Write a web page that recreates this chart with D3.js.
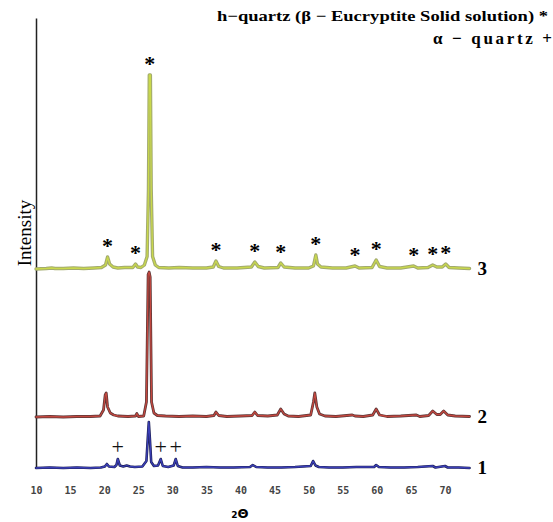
<!DOCTYPE html>
<html>
<head>
<meta charset="utf-8">
<script src="https://cdn.jsdelivr.net/npm/d3@7"></script>
<style>
  body { margin: 0; background: #fff; }
  .trace { fill: none; stroke-linejoin: round; stroke-linecap: round; }
  .tick-label { font-family: "DejaVu Sans Mono", monospace; font-weight: bold; font-size: 10px; fill: #444; }
</style>
</head>
<body>
<div id="chart"></div>
<script>
// 2-theta tick labels
var tickValues = [10, 15, 20, 25, 30, 35, 40, 45, 50, 55, 60, 65, 70];

// sample names, drawn bottom to top
var sampleNames = ['1', '2', '3'];

// vertical offset of each pattern (same units as intensity)
var sampleOffsets = [0, 102, 398];

// pattern 1 : [2theta, intensity]
var pattern1 = [[10.0,0],[12.0,1],[14.0,0],[16.0,1],[18.0,0],[19.5,1],[20.1,3],[20.4,8],[20.7,3],[21.5,2],
  [21.8,6],[22.0,18],[22.3,5],[22.8,3],[23.3,5],[23.8,3],[24.5,2],[25.6,3],[26.2,14],[26.4,60],[26.55,92],
  [26.7,60],[26.9,12],[27.3,4],[27.9,5],[28.3,18],[28.6,4],[29.4,2],[30.2,5],[30.5,18],[30.8,4],[31.5,1],
  [33.0,1],[35.0,2],[37.0,1],[39.0,1],[41.4,2],[41.8,6],[42.3,2],[44.0,1],[46.0,1],[48.0,2],[50.3,4],
  [50.65,14],[51.0,5],[51.5,2],[53.0,1],[55.0,1],[57.0,2],[59.6,2],[59.9,6],[60.3,2],[62.0,1],[64.0,1],
  [66.0,2],[68.2,4],[68.6,1],[70.0,4],[70.4,1],[72.0,1],[73.6,0]];

// pattern 2
var pattern2 = [[10.0,0],[12.0,1],[14.0,0],[16.0,1],[18.0,1],[19.4,2],[19.9,14],[20.15,44],[20.3,48],[20.5,20],
  [20.9,8],[21.4,4],[22.0,2],[23.5,1],[24.6,2],[24.8,7],[25.0,1],[25.8,2],[26.2,30],[26.45,285],[26.6,290],
  [26.75,280],[26.95,30],[27.3,8],[27.8,3],[29.0,2],[31.0,1],[33.0,2],[35.0,1],[36.1,3],[36.4,10],[36.8,3],
  [38.0,1],[40.0,2],[41.7,3],[42.1,10],[42.5,3],[44.0,2],[45.4,4],[45.9,16],[46.4,6],[47.0,2],[48.5,1],
  [50.3,4],[50.7,30],[50.9,48],[51.2,20],[51.6,6],[52.4,2],[54.0,1],[56.4,4],[56.8,2],[58.0,1],[59.4,4],
  [59.9,16],[60.4,4],[61.5,1],[63.5,2],[65.8,4],[66.3,1],[67.6,3],[68.2,12],[68.8,5],[69.3,5],[69.8,12],
  [70.4,4],[71.5,2],[73.6,1]];

// pattern 3
var pattern3 = [[10.0,0],[11.5,1],[12.3,2],[12.8,1],[14.0,1],[15.5,2],[17.0,1],[18.5,2],[19.6,3],[20.2,8],
  [20.5,24],[20.8,10],[21.3,4],[22.0,2],[23.0,3],[24.2,3],[24.6,10],[24.9,4],[25.4,3],[25.9,8],[26.3,25],
  [26.5,160],[26.62,388],[26.78,388],[26.9,160],[27.1,25],[27.5,8],[28.0,3],[29.5,2],[31.0,3],[33.0,2],[35.0,2],
  [36.0,4],[36.4,16],[36.8,5],[37.5,2],[39.5,2],[41.6,4],[42.1,14],[42.6,5],[43.5,2],[45.5,3],[45.9,12],
  [46.4,4],[48.0,2],[50.0,2],[50.7,6],[51.05,28],[51.3,10],[51.8,4],[53.5,2],[55.5,2],[56.8,6],[57.4,2],
  [59.3,3],[59.9,18],[60.4,5],[61.5,2],[63.5,2],[65.4,6],[66.0,2],[67.5,3],[68.2,8],[68.8,4],[69.6,4],
  [70.1,10],[70.6,3],[72.0,2],[73.6,1]];

// peaks marked with * (h-quartz) on pattern 3 and + (alpha-quartz) on pattern 1
var hQuartzPeaks = [20.5, 24.6, 26.7, 36.4, 42.1, 45.9, 51.05, 56.8, 59.9, 65.4, 68.2, 70.1];
var alphaQuartzPeaks = [22.0, 28.3, 30.5];

var patterns = [pattern1, pattern2, pattern3];
var colors = [
  { under: '#1c1f55', over: '#3b3fb8', w: 2.6 },
  { under: '#5a3636', over: '#c4473f', w: 2.8 },
  { under: '#a2aa6e', over: '#c9d84c', w: 3.4 }
];

var width = 553, height = 522;

var x = d3.scaleLinear().domain([10, 70]).range([36, 445]);
var y = d3.scaleLinear().domain([0, 900]).range([468, 18]);

var svg = d3.select('#chart').append('svg')
  .attr('width', width)
  .attr('height', height);

// y axis is just a line
svg.append('g')
  .attr('transform', 'translate(' + x(10) + ',0)')
  .call(d3.axisLeft(y).ticks(0).tickSizeOuter(0))
  .select('.domain')
  .attr('stroke', '#222')
  .attr('stroke-width', 1.5);

// x axis: labels only
var xAxis = svg.append('g')
  .attr('transform', 'translate(0,' + 484 + ')')
  .call(d3.axisBottom(x).tickValues(tickValues).tickSize(0).tickFormat(d3.format('d')));
xAxis.select('.domain').remove();
xAxis.selectAll('text').attr('class', 'tick-label').attr('font-family', null).attr('font-size', null);

// patterns
patterns.forEach(function(p, i) {
  var off = sampleOffsets[i];
  var line = d3.line()
    .x(function(d) { return x(d[0]); })
    .y(function(d) { return y(d[1] + off); });
  svg.append('path').datum(p).attr('class', 'trace')
    .attr('d', line).attr('stroke', colors[i].under).attr('stroke-width', colors[i].w);
  svg.append('path').datum(p).attr('class', 'trace')
    .attr('d', line).attr('stroke', colors[i].over).attr('stroke-width', 1.3);

  svg.append('text')
    .attr('x', x(73.6) + 8)
    .attr('y', y(off) + 6)
    .attr('font-family', 'Liberation Serif')
    .attr('font-weight', 'bold')
    .attr('font-size', 19)
    .text(sampleNames[i]);
});

function peakTop(p, pos) {
  return d3.max(p.filter(function(d) { return Math.abs(d[0] - pos) < 0.2; }), function(d) { return d[1]; });
}

svg.selectAll('.star')
  .data(hQuartzPeaks)
  .enter().append('text')
  .attr('class', 'star')
  .attr('x', function(d) { return x(d); })
  .attr('y', function(d) { return y(peakTop(pattern3, d) + sampleOffsets[2]) - 15 + 11; })
  .attr('text-anchor', 'middle')
  .attr('font-family', 'Liberation Serif')
  .attr('font-weight', 'bold')
  .attr('font-size', 22)
  .text('*');

svg.selectAll('.plus')
  .data(alphaQuartzPeaks)
  .enter().append('text')
  .attr('class', 'plus')
  .attr('x', function(d) { return x(d); })
  .attr('y', function(d) { return y(peakTop(pattern1, d) + sampleOffsets[0]) - 11 + 6; })
  .attr('text-anchor', 'middle')
  .attr('font-family', 'Liberation Serif')
  .attr('font-size', 22)
  .attr('fill', '#111')
  .text('+');

// legend
svg.append('text')
  .attr('x', 217).attr('y', 21)
  .attr('font-family', 'Liberation Serif')
  .attr('font-weight', 'bold')
  .attr('font-size', 15)
  .attr('textLength', 331)
  .attr('lengthAdjust', 'spacingAndGlyphs')
  .text('h\u2212quartz (\u03b2 \u2212 Eucryptite Solid solution) *');

svg.append('text')
  .attr('x', 433).attr('y', 44)
  .attr('font-family', 'Liberation Serif')
  .attr('font-weight', 'bold')
  .attr('font-size', 17)
  .attr('textLength', 119)
  .attr('lengthAdjust', 'spacing')
  .text('\u03b1 \u2212 quartz +');

// axis titles
svg.append('text')
  .attr('transform', 'translate(31,233) rotate(-90)')
  .attr('text-anchor', 'middle')
  .attr('font-family', 'Liberation Serif')
  .attr('font-size', 19)
  .text('Intensity');

var xt = svg.append('text')
  .attr('x', 240).attr('y', 518)
  .attr('text-anchor', 'middle')
  .attr('font-family', 'DejaVu Sans')
  .attr('font-weight', 'bold');
xt.append('tspan').attr('font-size', 9).text('2');
xt.append('tspan').attr('font-size', 13).text('\u0398');
</script>
</body>
</html>
